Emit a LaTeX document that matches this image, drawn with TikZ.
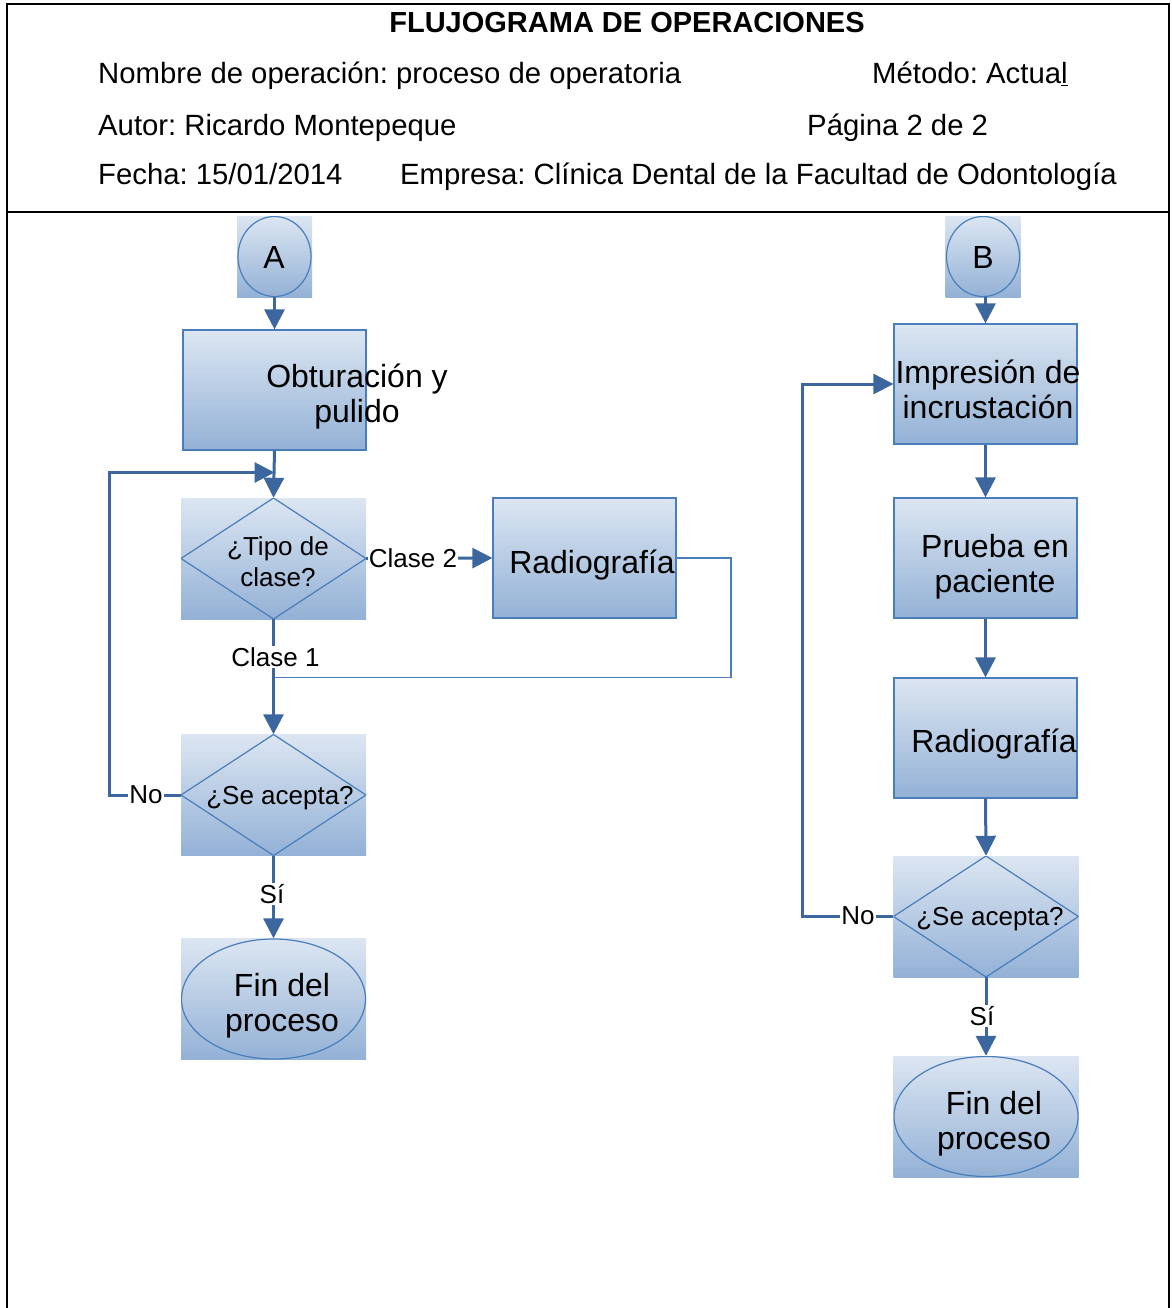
\documentclass[tikz,border=0pt]{standalone}
\usepackage{fontspec}
\setmainfont{Liberation Sans}
\usetikzlibrary{arrows.meta,calc}
\frenchspacing
\definecolor{edge}{HTML}{4A7EBB}
\definecolor{flow}{HTML}{3C679E}
\definecolor{shadetop}{HTML}{DCE6F2}
\definecolor{shadebot}{HTML}{93B1D6}
\begin{document}
\begin{tikzpicture}[x=1pt,y=-1pt,
  frame/.style={line width=2pt,black},
  hdr/.style={anchor=base west,inner sep=0pt,font=\fontsize{29.3}{34}\selectfont},
  boxfill/.style={rectangle,inner sep=0pt,top color=shadetop,bottom color=shadebot},
  procbox/.style={boxfill,draw=edge,line width=1.2pt,minimum width=183pt,minimum height=120pt},
  decision/.style={boxfill,minimum width=185pt,minimum height=121pt,
    path picture={\draw[edge,line width=1.2pt] (path picture bounding box.north) -- (path picture bounding box.east) -- (path picture bounding box.south) -- (path picture bounding box.west) -- cycle;}},
  terminal/.style={boxfill,minimum width=185pt,minimum height=121pt,
    path picture={\draw[edge,line width=1.2pt] (path picture bounding box.center) ellipse [x radius=92pt,y radius=60pt];}},
  connector/.style={boxfill,minimum width=75pt,minimum height=81pt,
    path picture={\draw[edge,line width=1.2pt] (path picture bounding box.center) ellipse [x radius=36.5pt,y radius=40pt];}},
  boxtext/.style={inner sep=0pt,align=center,font=\fontsize{32}{35}\selectfont},
  dectext/.style={inner sep=0pt,align=center,font=\fontsize{26}{31}\selectfont},
  lbl/.style={inner sep=1pt,fill=white,font=\fontsize{26}{30}\selectfont},
  flowarrow/.style={draw=flow,line width=3pt,-{Triangle[length=20pt,width=20pt]}},
  flowline/.style={draw=flow,line width=3pt},
  thinline/.style={draw=edge,line width=1.5pt}
]
\fill[white] (0,0) rectangle (1171,1308);
\useasboundingbox (0,0) rectangle (1171,1308);

% page frame and header
\draw[frame] (6.5,1308) -- (6.5,4.5) -- (1169,4.5) -- (1169,1308);
\draw[frame] (6.5,212) -- (1169,212);
\node[anchor=base,inner sep=0pt,font=\bfseries\fontsize{29}{34}\selectfont] (title) at (627,33) {FLUJOGRAMA DE OPERACIONES};
\node[hdr] (nombre) at (98,84) {Nombre de operación: proceso de operatoria};
\node[hdr] (metodo) at (872,84) {Método: Actua\underline{l}};
\node[hdr] (autor) at (98,136) {Autor: Ricardo Montepeque};
\node[hdr] (pagina) at (807,136) {Página 2 de 2};
\node[hdr] (fecha) at (98,185) {Fecha: 15/01/2014};
\node[hdr] (empresa) at (400,185) {Empresa: Clínica Dental de la Facultad de Odontología};

% left branch
\node[connector] (A) at (274.5,256.5) {};
\node[procbox] (obt) at (274.5,390) {};
\node[decision] (tipo) at (273.5,558.5) {};
\node[procbox] (rad1) at (584.5,558) {};
\node[decision] (acc1) at (273.5,795) {};
\node[terminal] (fin1) at (273.5,999) {};

% right branch
\node[connector] (B) at (983,256.5) {};
\node[procbox] (imp) at (985.5,384) {};
\node[procbox] (prue) at (985.5,558) {};
\node[procbox] (rad2) at (985.5,738) {};
\node[decision] (acc2) at (986,916.5) {};
\node[terminal] (fin2) at (986,1116.5) {};

% junction points
\coordinate (mergeA) at (274.5,472.5);
\coordinate (joinA) at (274.5,677.5);

% connectors, left
\draw[flowarrow] (A.south) -- (obt.north);
\draw[flowarrow] (obt.south) -- (tipo.north);
\draw[flowarrow] (acc1.west) -- ++(-71.5,0) |- (mergeA);
\draw[flowarrow] (tipo.east) -- (rad1.west);
\draw[flowarrow] (tipo.south) -- (acc1.north);
\draw[thinline] (rad1.east) -- ++(54.5,0) |- (joinA);
\draw[flowarrow] (acc1.south) -- (fin1.north);

% connectors, right
\draw[flowarrow] (B.south -| imp.north) -- (imp.north);
\draw[flowarrow] (imp.south) -- (prue.north);
\draw[flowarrow] (prue.south) -- (rad2.north);
\draw[flowarrow] (rad2.south) -- (acc2.north);
\draw[flowarrow] (acc2.south) -- (fin2.north);
\draw[flowarrow] (acc2.west) -- ++(-91,0) |- (imp.west);

% shape texts
\node[boxtext] (A-t) at (274,257) {A};
\node[boxtext] (obt-t) at (357,397) {Obturación y\\pulido};
\node[dectext] (tipo-t) at (278,561.5) {¿Tipo de\\clase?};
\node[boxtext] (rad1-t) at (592,565) {Radiografía};
\node[dectext] (acc1-t) at (280,798) {¿Se acepta?};
\node[boxtext] (fin1-t) at (282,1006) {Fin del\\proceso};
\node[boxtext] (B-t) at (983,257) {B};
\node[boxtext] (imp-t) at (988,389) {Impresión de\\incrustación};
\node[boxtext] (prue-t) at (995,566.5) {Prueba en\\paciente};
\node[boxtext] (rad2-t) at (994,744) {Radiografía};
\node[dectext] (acc2-t) at (990,919) {¿Se acepta?};
\node[boxtext] (fin2-t) at (994,1124) {Fin del\\proceso};

% branch labels
\node[lbl] (clase2) at (413,558) {Clase 2};
\node[lbl] (clase1) at (275.5,657) {Clase 1};
\node[lbl] (no1) at (146,795) {No};
\node[lbl] (si1) at (272,894) {Sí};
\node[lbl] (no2) at (858,916) {No};
\node[lbl] (si2) at (982,1016) {Sí};
\end{tikzpicture}
\end{document}
